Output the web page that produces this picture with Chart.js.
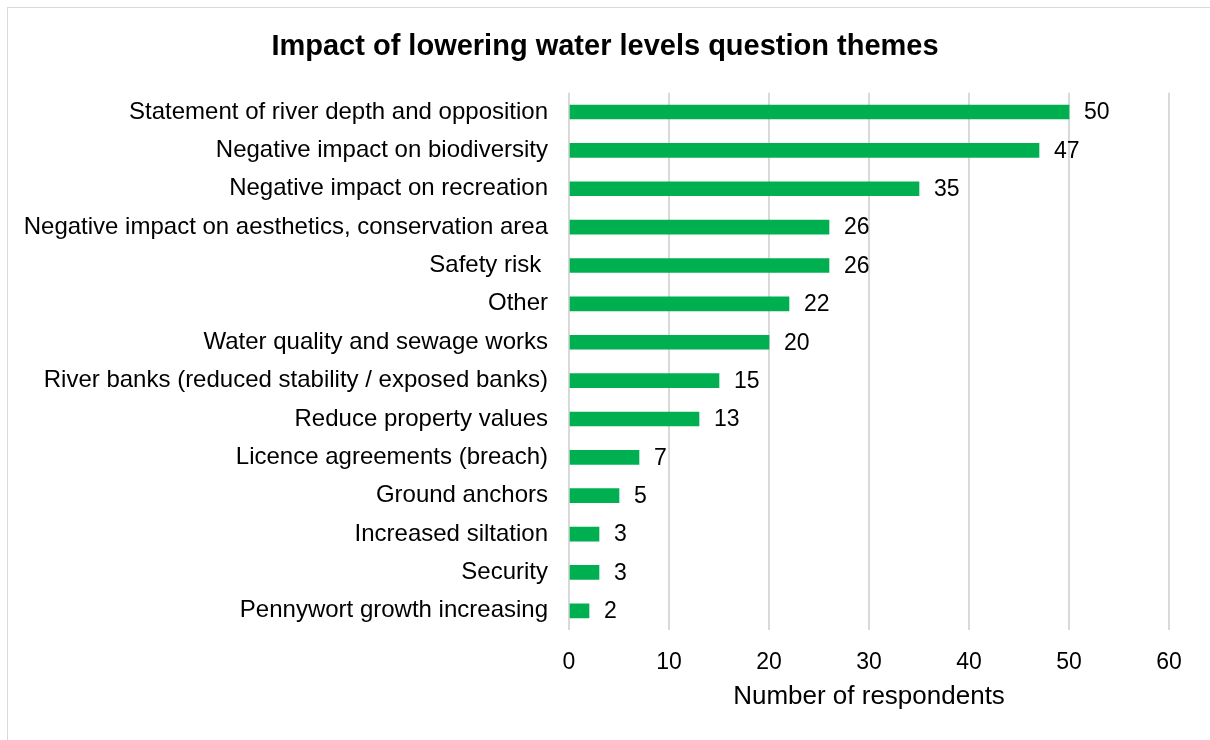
<!DOCTYPE html>
<html>
<head>
<meta charset="utf-8">
<script src="https://cdn.jsdelivr.net/npm/chart.js@4"></script>
<style>
html,body{margin:0;padding:0;background:#fff;}
#wrap{position:relative;width:1210px;height:740px;overflow:hidden;}
#frame{position:absolute;left:7px;top:7px;width:1220px;height:750px;border:1px solid #d9d9d9;box-sizing:border-box;}
canvas{position:absolute;left:0;top:0;}
</style>
</head>
<body>
<div id="wrap"><div id="frame"></div><canvas id="c" width="1210" height="740"></canvas></div>
<script>
const categories = [
  "Statement of river depth and opposition",
  "Negative impact on biodiversity",
  "Negative impact on recreation",
  "Negative impact on aesthetics, conservation area",
  "Safety risk ",
  "Other",
  "Water quality and sewage works",
  "River banks (reduced stability / exposed banks)",
  "Reduce property values",
  "Licence agreements (breach)",
  "Ground anchors",
  "Increased siltation",
  "Security",
  "Pennywort growth increasing"
];
const respondents = [50, 47, 35, 26, 26, 22, 20, 15, 13, 7, 5, 3, 3, 2];
const xTicks = [0, 10, 20, 30, 40, 50, 60];
const chartTitle = "Impact of lowering water levels question themes";
const axisTitle = "Number of respondents";

const FONT = "'Liberation Sans', Arial, sans-serif";

const valueLabels = {
  id: 'valueLabels',
  afterDatasetsDraw(chart) {
    const ctx = chart.ctx;
    const meta = chart.getDatasetMeta(0);
    ctx.save();
    ctx.font = "23px " + FONT;
    ctx.fillStyle = "#000";
    ctx.textAlign = "left";
    ctx.textBaseline = "middle";
    meta.data.forEach((bar, i) => {
      ctx.fillText(String(respondents[i]), bar.x + 15, bar.y + 1);
    });
    ctx.restore();
  }
};

new Chart(document.getElementById('c'), {
  type: 'bar',
  data: {
    labels: categories,
    datasets: [{
      data: respondents,
      backgroundColor: '#00B050',
      borderWidth: 0,
      barThickness: 14
    }]
  },
  options: {
    indexAxis: 'y',
    responsive: false,
    animation: false,
    layout: { padding: 0 },
    plugins: {
      legend: { display: false },
      tooltip: { enabled: false },
      title: {
        display: true,
        text: chartTitle,
        color: '#000',
        font: { family: FONT, size: 29, weight: 'bold' },
        padding: { top: 30, bottom: 28 }
      }
    },
    scales: {
      x: {
        min: 0, max: 60,
        afterFit(s) { s.height = 110; },
        afterBuildTicks(s) { s.ticks = xTicks.map(v => ({ value: v })); },
        border: { display: false },
        grid: { color: '#d9d9d9', lineWidth: 2, drawTicks: false },
        ticks: { color: '#000', padding: 19, font: { family: FONT, size: 23 } },
        title: {
          display: true, text: axisTitle, color: '#000',
          font: { family: FONT, size: 26 },
          padding: { top: 28, bottom: 28 }
        }
      },
      y: {
        afterFit(s) { s.width = 569; },
        border: { display: false },
        grid: { display: false, drawTicks: false },
        ticks: { color: '#000', padding: 21, font: { family: FONT, size: 24 }, autoSkip: false }
      },
      yRight: {
        type: 'category',
        position: 'right',
        afterFit(s) { s.width = 41; },
        border: { display: false },
        grid: { display: false, drawTicks: false },
        ticks: { display: false }
      }
    }
  },
  plugins: [valueLabels]
});
</script>
</body>
</html>
